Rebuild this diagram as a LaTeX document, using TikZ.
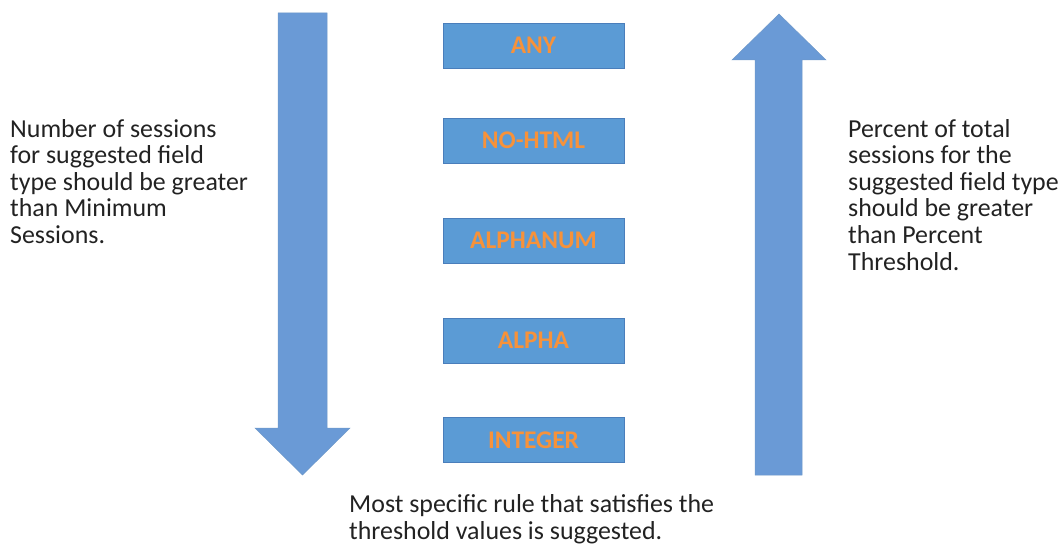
\documentclass[tikz,border=0pt]{standalone}
\usepackage{fontspec}
\setmainfont{Carlito}
\definecolor{arrowblue}{HTML}{6A9AD6}
\definecolor{boxblue}{HTML}{5B9BD5}
\definecolor{boxline}{HTML}{4A7EBB}
\definecolor{lbl}{HTML}{F7923A}
\definecolor{txt}{HTML}{222222}
\begin{document}
\begin{tikzpicture}[x=1bp,y=-1bp,
  rulebox/.style={draw=boxline,line width=0.8bp,fill=boxblue,minimum width=181bp,minimum height=45bp,inner sep=0pt,
    font=\fontsize{25.5}{28}\selectfont\bfseries,text=lbl},
  bigarrow/.style={fill=arrowblue,draw=boxline!80,line width=0.5bp},
  note/.style={inner sep=0pt,align=left,text=txt,font=\fontsize{26}{26.7}\selectfont}]
\useasboundingbox (0,0) rectangle (1062,549);
% down arrow
\path[bigarrow] (278,13) -- (327,13) -- (327,428) -- (350,428) -- (302.5,475) -- (255,428) -- (278,428) -- cycle;
% up arrow
\path[bigarrow] (755,475) -- (802,475) -- (802,60) -- (826,60) -- (779,14) -- (732,60) -- (755,60) -- cycle;
% boxes
\node[rulebox] (any) at (533.5,45.5) {ANY};
\node[rulebox] (nohtml) at (533.5,140.5) {NO-HTML};
\node[rulebox] (alphanum) at (533.5,240.5) {ALPHANUM};
\node[rulebox] (alpha) at (533.5,340.5) {ALPHA};
\node[rulebox] (integer) at (533.5,440) {INTEGER};
% texts
\node[note,anchor=north west] (left) at (10,119) {Number of sessions\\for suggested field\\type should be greater\\than Minimum\\Sessions.};
\node[note,anchor=north west] (right) at (848,119) {Percent of total\\sessions for the\\suggested field type\\should be greater\\than Percent\\Threshold.};
\node[note,anchor=north west] (bottom) at (349,494.5) {Most specific rule that satisfies the\\threshold values is suggested.};
\end{tikzpicture}
\end{document}
